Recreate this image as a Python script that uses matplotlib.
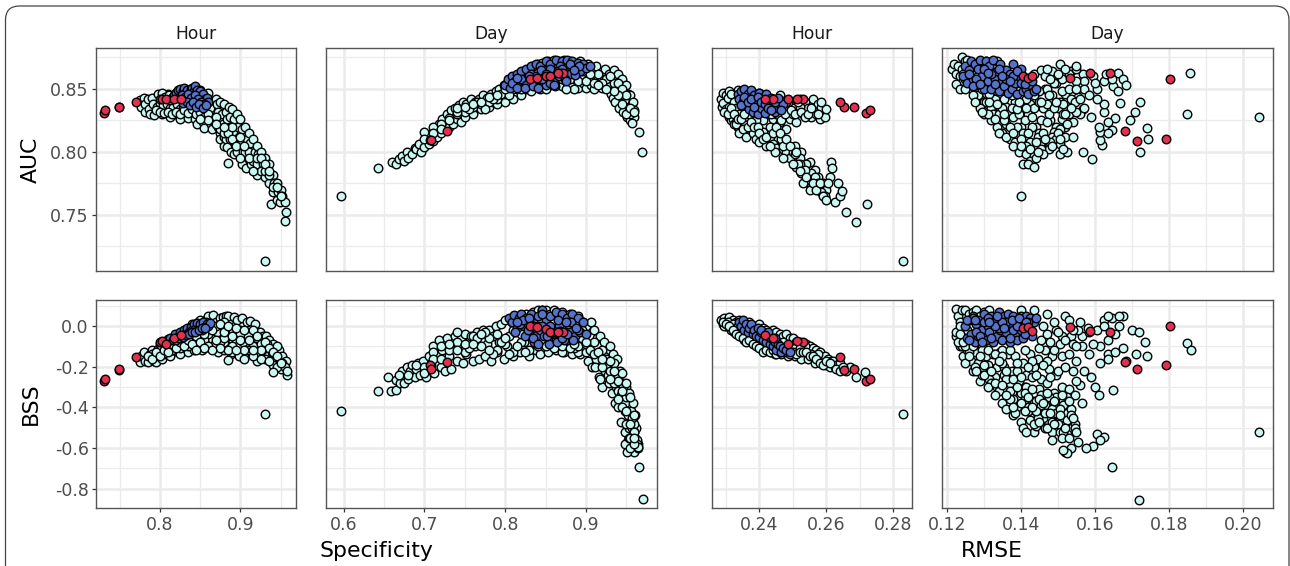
import matplotlib
matplotlib.use("Agg")
import matplotlib.pyplot as plt
from matplotlib.patches import FancyBboxPatch
from matplotlib.transforms import IdentityTransform

# ---- values, (x, y) per panel ----
# Hour, Specificity / AUC
a_light = [(.775,.841),(.776,.836),(.78,.843),(.781,.838),(.782,.832),(.785,.842),(.786,.834),(.787,.83),(.79,.843),(.791,.838),(.793,.829),
    (.80,.845),(.801,.84),(.802,.835),(.803,.83),(.81,.846),(.811,.84),(.812,.834),(.813,.828),(.82,.847),(.821,.842),(.822,.836),(.823,.829),(.825,.826),
    (.83,.849),(.831,.843),(.832,.837),(.833,.831),(.835,.827),(.84,.85),(.841,.845),(.842,.838),(.843,.832),(.844,.826),(.846,.822),
    (.85,.849),(.851,.843),(.852,.836),(.853,.83),(.854,.824),(.855,.819),(.86,.847),(.861,.841),(.862,.835),(.863,.828),(.864,.822),(.865,.818),
    (.87,.842),(.871,.838),(.872,.832),(.873,.826),(.872,.82),(.874,.815),(.875,.81),(.875,.84),(.877,.83),(.878,.822),(.879,.812),(.88,.805),
    (.88,.838),(.882,.832),(.883,.826),(.884,.818),(.882,.81),(.883,.804),(.886,.836),(.887,.828),(.888,.82),(.887,.81),(.888,.80),(.8845,.791),
    (.89,.834),(.892,.826),(.891,.815),(.893,.806),(.892,.798),(.896,.83),(.897,.82),(.898,.812),(.896,.80),(.90,.826),(.902,.818),(.901,.808),(.903,.80),(.902,.79),
    (.906,.82),(.908,.81),(.906,.80),(.907,.787),(.91,.815),(.912,.807),(.911,.80),(.913,.79),(.916,.81),(.918,.80),(.915,.793),(.92,.805),(.922,.798),(.921,.79),(.92,.782),
    (.926,.80),(.928,.79),(.925,.785),(.931,.795),(.933,.788),(.93,.78),(.936,.79),(.938,.78),(.935,.775),(.94,.782),(.942,.775),(.941,.768),(.9385,.759),
    (.946,.775),(.947,.768),(.945,.762),(.95,.77),(.952,.765),(.949,.76),(.955,.76),(.956,.752),(.9555,.745),(.9305,.7135),
    (.797,.846),(.803,.847),(.806,.844),(.811,.845),(.815,.843),(.819,.846),(.823,.844),(.826,.841),(.831,.845),(.835,.842),(.838,.843),(.841,.841),
    (.796,.836),(.80,.839),(.804,.837),(.809,.838),(.813,.835),(.816,.836),(.821,.838),(.825,.834),(.828,.835),(.833,.836),
    (.795,.833),(.80,.832),(.805,.831),(.81,.832),(.815,.83),(.82,.832),(.825,.83),(.83,.833),(.835,.831),(.84,.834),(.845,.83),(.85,.832),(.855,.828),(.86,.83),(.865,.825),(.87,.828),(.875,.818),(.88,.815),(.885,.815),(.89,.81),
    (.895,.805),(.90,.795),(.905,.805),(.91,.795),(.915,.785),(.92,.795),(.925,.795),(.93,.785),(.935,.782),(.94,.772),(.945,.772),(.95,.765),(.93,.79),(.935,.785),(.90,.812),(.89,.82),(.88,.82),(.87,.822),(.86,.825),(.85,.826)]
a_blue = [(.812,.841),(.815,.843),(.818,.845),(.82,.847),(.822,.849),(.825,.85),(.828,.848),(.83,.851),(.832,.847),(.834,.849),(.836,.846),(.838,.85),
    (.84,.851),(.842,.848),(.844,.852),(.846,.849),(.848,.846),(.85,.848),(.852,.844),(.854,.846),(.856,.842),(.858,.843),(.86,.84),
    (.824,.843),(.827,.845),(.831,.844),(.835,.846),(.839,.843),(.843,.845),(.847,.842),(.851,.84),(.855,.838),(.829,.839),(.833,.84),(.837,.837),(.841,.84),(.845,.836),(.849,.838),(.853,.835),(.857,.837)]
# Day, Specificity / AUC
b_light = [(.597,.765),(.642,.787),(.66,.792),(.665,.79),(.668,.794),(.672,.797),(.675,.793),(.678,.80),(.68,.795),(.685,.798),(.688,.803),(.69,.802),(.693,.806),(.696,.80),
    (.70,.804),(.702,.811),(.705,.806),(.708,.814),(.71,.809),(.713,.818),(.715,.812),(.718,.822),(.72,.815),(.722,.826),(.725,.818),(.728,.83),(.73,.82),(.733,.833),(.735,.822),(.738,.835),
    (.74,.826),(.743,.837),(.745,.824),(.748,.84),(.75,.828),(.752,.838),(.755,.833),(.758,.842),(.76,.83),(.762,.84),(.765,.836),(.768,.842),(.77,.834),(.772,.845),(.775,.838),(.778,.843),
    (.78,.836),(.782,.846),(.785,.84),(.788,.848),(.79,.838),(.792,.85),(.795,.843),(.798,.853),(.80,.84),(.802,.855),(.805,.848),(.808,.858),(.81,.842),(.812,.86),(.815,.85),(.818,.862),
    (.82,.845),(.823,.864),(.826,.85),(.829,.866),(.832,.848),(.835,.868),(.838,.852),(.84,.87),(.843,.85),(.846,.871),(.85,.855),(.853,.872),(.856,.853),(.86,.873),(.863,.856),(.866,.872),
    (.87,.852),(.873,.873),(.876,.855),(.88,.872),(.883,.853),(.886,.871),(.89,.851),(.893,.872),(.896,.855),(.90,.851),(.903,.87),(.906,.853),(.91,.85),(.913,.868),(.916,.856),(.92,.851),(.923,.866),(.926,.853),
    (.93,.849),(.928,.862),(.933,.855),(.931,.846),(.935,.865),(.937,.852),(.934,.843),(.94,.862),(.938,.85),(.942,.856),(.936,.84),(.945,.858),(.943,.845),(.947,.852),(.941,.835),
    (.95,.853),(.948,.84),(.952,.846),(.946,.832),(.955,.845),(.953,.836),(.957,.838),(.951,.828),(.958,.84),(.956,.83),(.959,.833),(.954,.825),(.96,.828),(.957,.823),(.966,.816),(.969,.80),
    (.70,.816),(.71,.82),(.72,.822),(.73,.827),(.74,.83),(.75,.832),(.76,.836),(.77,.838),(.78,.84),(.79,.842),(.80,.846),(.81,.85),(.82,.855),(.83,.858),(.84,.86),(.85,.862),(.86,.864),(.87,.866),
    (.88,.865),(.89,.864),(.90,.862),(.91,.86),(.92,.858),(.93,.855),(.94,.85),(.945,.848),(.74,.832),(.755,.834),(.765,.84),(.775,.834),(.785,.842),(.795,.846),(.805,.845),(.815,.852),(.825,.853),
    (.835,.856),(.845,.857),(.855,.857),(.865,.86),(.875,.86),(.885,.858),(.895,.858),(.905,.857),(.915,.862),(.925,.858),(.935,.855),
    (.70,.81),(.71,.815),(.72,.818),(.73,.825),(.74,.835),(.75,.836),(.76,.838),(.77,.84),(.78,.844),(.79,.845),(.80,.85),(.81,.855),(.82,.85),(.83,.855),(.84,.855),(.85,.85),(.86,.86),(.87,.858),(.88,.858),(.89,.856),
    (.90,.856),(.91,.855),(.92,.855),(.93,.86),(.94,.855),(.945,.85),(.95,.845),(.955,.83),(.95,.83),(.945,.838),(.94,.845),(.935,.848),(.925,.85),(.915,.853),(.905,.862),(.895,.864),(.885,.85),(.875,.85),(.955,.835),(.96,.832)]
b_blue = [(.80,.853),(.803,.858),(.806,.851),(.809,.86),(.812,.856),(.815,.862),(.818,.853),(.82,.864),(.823,.856),(.826,.866),(.829,.855),(.832,.868),(.835,.854),(.838,.87),(.84,.858),(.843,.868),(.846,.856),
    (.85,.872),(.853,.86),(.856,.87),(.86,.858),(.863,.873),(.866,.86),(.87,.872),(.873,.864),(.876,.873),(.88,.862),(.883,.872),(.886,.866),(.89,.871),(.893,.864),(.896,.87),(.90,.867),(.905,.868),
    (.808,.855),(.814,.851),(.82,.858),(.826,.853),(.832,.862),(.838,.86),(.844,.865),(.85,.853),(.856,.866),(.862,.852),(.868,.868),(.874,.858),(.88,.87),(.886,.861),(.892,.868),
    (.825,.851),(.835,.852),(.845,.858),(.855,.855),(.865,.864),(.875,.856),(.885,.865),(.815,.859),(.83,.86),(.84,.851),(.85,.862),(.86,.853),(.87,.866)]
# Hour, RMSE / AUC
c_light = [(.2285,.842),(.229,.847),(.2295,.838),(.23,.845),(.2305,.841),(.231,.848),(.2288,.836),(.2292,.839),(.23,.834),(.2305,.843),(.231,.836),(.2315,.846),(.232,.832),(.2325,.84),(.233,.835),(.2335,.849),(.234,.83),(.2345,.843),
    (.231,.828),(.2315,.825),(.232,.826),(.2325,.822),(.233,.824),(.2335,.82),(.234,.818),(.235,.846),(.2355,.84),(.236,.835),(.2365,.828),(.237,.82),(.2375,.816),(.238,.842),(.2385,.835),(.239,.826),(.2395,.812),
    (.24,.847),(.2405,.84),(.241,.832),(.2415,.815),(.242,.845),(.2425,.83),(.243,.838),(.2435,.82),(.244,.826),(.2445,.836),(.245,.81),(.233,.822),(.234,.815),(.235,.818),(.236,.812),(.237,.82),(.238,.815),(.239,.81),
    (.24,.808),(.241,.816),(.242,.805),(.243,.812),(.244,.806),(.245,.803),(.2455,.84),(.246,.832),(.2465,.81),(.247,.802),(.2475,.835),(.248,.80),(.2485,.828),(.249,.838),(.2495,.796),(.25,.83),
    (.2505,.805),(.251,.835),(.2515,.793),(.252,.842),(.2525,.80),(.253,.83),(.2535,.84),(.254,.79),(.2545,.835),(.255,.792),(.2555,.828),(.256,.842),(.2565,.786),(.257,.83),(.2575,.838),(.258,.826),(.2585,.836),(.2595,.828),(.2598,.834),
    (.2465,.835),(.247,.805),(.248,.83),(.249,.795),(.25,.835),(.251,.788),(.252,.795),(.253,.785),(.254,.79),(.255,.78),(.2555,.783),(.2565,.775),(.2575,.78),(.2585,.77),(.259,.775),(.26,.77),(.261,.78),(.2625,.7605),(.264,.765),(.2635,.775),(.2647,.769),(.266,.7525),(.2688,.7447),(.2722,.759),(.2615,.792),(.2618,.7875),(.283,.7135),
    (.24,.84),(.241,.825),(.242,.838),(.243,.82),(.244,.834),(.245,.83),(.246,.824),(.247,.828),(.248,.818),(.249,.826),(.25,.80),(.251,.824),(.252,.79),(.253,.785),(.2445,.80),(.2505,.798),(.2515,.79),(.2525,.783),(.2535,.786),(.2545,.776),(.2555,.772),(.2565,.78),(.2575,.775),(.2585,.768),(.2595,.765),
    (.2346,.837),(.2368,.83),(.239,.825),(.2412,.838),(.2434,.83),(.2456,.84),(.2478,.835),(.25,.83),(.2522,.836),
    (.2295,.832),(.2305,.83),(.2315,.835),(.2325,.83),(.2335,.826),(.2345,.826),(.2355,.83),(.2365,.82),(.2375,.824),(.2385,.82),(.2395,.82),(.24,.815),(.241,.81),(.242,.812),(.243,.805),(.244,.815),(.245,.82),(.246,.815),(.247,.795),(.248,.81),(.249,.805),(.25,.79),(.251,.80),(.252,.785),
    (.253,.775),(.254,.78),(.255,.77),(.256,.775),(.257,.77),(.258,.775),(.259,.765),(.26,.762),(.2605,.775),(.2455,.83),(.2465,.825),(.2475,.83),(.2485,.84),(.2495,.833),(.2505,.83),(.2515,.84),(.2525,.832),(.2535,.828),(.2545,.83),(.2555,.835),(.2575,.83),(.2585,.84),(.244,.842),(.246,.845),(.248,.84)]
c_blue = [(.2335,.846),(.234,.842),(.2345,.848),(.235,.84),(.2355,.85),(.236,.837),(.2365,.846),(.237,.834),(.2375,.849),(.238,.832),(.2385,.845),(.239,.84),(.2395,.83),(.24,.847),(.2405,.835),(.241,.843),(.2415,.831),(.242,.846),(.2425,.84),(.243,.834),
    (.2435,.843),(.244,.838),(.2445,.832),(.245,.84),(.2455,.835),(.246,.841),(.2465,.836),(.247,.838),(.2345,.837),(.2355,.844),(.2365,.84),(.2375,.842),(.2385,.836),(.2395,.844),(.2405,.84),(.2415,.838),(.2425,.835),(.2435,.833),(.2445,.84),(.2455,.843),(.2465,.833)]
# Day, RMSE / AUC
d_light = [(.1858,.863),(.185,.83),(.2042,.8275),(.14,.765),(.1722,.84),(.1708,.832),(.1695,.825),(.174,.819),(.1743,.81),(.1722,.80),(.1568,.80),(.1593,.794),(.1618,.8055),(.1615,.8095),(.1645,.8175),(.1615,.816),(.1667,.8385),(.1655,.8268),
    (.1635,.824),(.1625,.832),(.159,.828),(.1568,.834),(.1605,.85),(.1555,.844),(.1625,.856),(.1662,.863),(.1675,.858),(.1685,.853),(.165,.852),(.1662,.848),(.1595,.86),(.1568,.862),(.1535,.864),(.1548,.85),(.152,.846),(.1525,.83),(.154,.824),
    (.1215,.866),(.122,.87),(.1225,.862),(.123,.868),(.1235,.86),(.124,.875),(.1245,.856),(.125,.872),(.1225,.854),(.1235,.85),(.124,.866),(.1245,.862),(.125,.858),(.1255,.873),(.126,.852),(.1265,.868),(.127,.848),(.1275,.864),(.128,.845),(.1285,.86),(.129,.842),(.1295,.866),(.13,.84),(.1305,.872),(.131,.838),(.1315,.86),(.132,.835),(.1325,.868),(.133,.842),(.1335,.872),(.134,.834),(.1345,.862),(.135,.838),(.1355,.858),(.136,.836),
    (.1265,.855),(.1275,.85),(.1285,.845),(.1295,.85),(.1305,.84),(.1315,.846),(.1325,.83),(.1335,.848),(.1345,.835),(.1355,.842),(.1365,.83),(.1375,.854),(.1385,.84),(.1395,.848),(.1405,.835),(.1415,.852),(.1425,.838),(.1435,.862),(.1445,.848),(.1455,.865),(.1465,.85),(.1475,.86),(.1485,.845),(.1495,.855),(.1505,.84),
    (.13,.83),(.132,.825),(.134,.83),(.136,.822),(.138,.828),(.14,.82),(.142,.83),(.144,.82),(.146,.835),(.148,.825),(.15,.835),(.152,.82),(.154,.84),(.156,.83),(.1335,.82),(.1355,.825),(.1375,.835),(.1395,.83),(.1415,.842),(.1435,.835),(.1455,.825),(.1475,.83),(.1495,.82),(.1515,.838),(.1535,.842),
    (.135,.815),(.137,.81),(.139,.82),(.141,.812),(.143,.82),(.145,.815),(.147,.824),(.149,.816),(.151,.826),(.153,.83),(.155,.832),(.157,.835),(.1385,.808),(.1405,.815),(.1425,.808),(.1445,.812),(.1465,.806),(.1485,.812),(.1505,.818),(.1525,.822),(.1545,.84),
    (.1395,.803),(.1415,.805),(.1435,.802),(.1455,.808),(.1475,.806),(.1495,.81),(.1515,.812),(.1395,.80),(.1415,.798),(.1435,.797),(.1475,.802),(.1505,.806),(.1455,.802),(.1425,.793),(.146,.798),(.144,.795),(.1505,.798),(.1525,.80),(.1405,.79),(.142,.79),(.1435,.788),
    (.145,.848),(.147,.85),(.149,.855),(.151,.858),(.153,.862),(.155,.866),(.157,.856),(.1465,.86),(.1485,.864),(.1505,.87),(.152,.866),(.155,.868),
    (.125,.85),(.127,.845),(.129,.835),(.131,.83),(.133,.826),(.135,.835),(.137,.82),(.139,.834),(.141,.825),(.143,.828),(.145,.84),(.147,.838),(.149,.835),(.151,.848),(.153,.85),(.155,.856),(.157,.85),(.1275,.84),(.1295,.832),(.1315,.84),(.1335,.838),(.1355,.83),(.1375,.845),(.1395,.84),(.1415,.835),(.1435,.845),(.1455,.84),(.1475,.845),(.1495,.84),(.1515,.83),(.1535,.835),
    (.134,.815),(.136,.812),(.138,.815),(.14,.81),(.142,.815),(.144,.808),(.146,.815),(.148,.808),(.15,.815),(.152,.812),(.138,.805),(.14,.805),(.1425,.802),(.1445,.80),(.1465,.81),(.1485,.805),(.1505,.81),(.1515,.802),(.152,.83),(.154,.812),
    (.1625,.838),(.1585,.845),(.161,.82),(.1635,.815),(.1605,.842),(.163,.862),(.1645,.858),(.16,.855),(.155,.85),(.156,.842),(.148,.858),(.15,.862),(.147,.866)]
d_blue = [(.1245,.86),(.125,.868),(.1255,.855),(.126,.865),(.1265,.872),(.127,.858),(.1275,.87),(.128,.853),(.1285,.866),(.129,.873),(.1295,.86),(.13,.85),(.1305,.872),(.131,.856),(.1315,.868),(.132,.85),(.1325,.873),(.133,.858),(.1335,.864),(.134,.848),
    (.1345,.87),(.135,.856),(.1355,.852),(.136,.865),(.1365,.847),(.137,.862),(.1375,.85),(.138,.87),(.1385,.855),(.139,.846),(.1395,.86),(.14,.866),(.1405,.848),(.141,.855),(.1415,.85),(.142,.846),(.1425,.858),(.143,.852),(.1435,.848),(.144,.85),
    (.126,.862),(.128,.858),(.13,.866),(.132,.862),(.134,.866),(.136,.858),(.138,.86),(.14,.855),(.142,.857),(.127,.852),(.129,.854),(.131,.863),(.133,.854),(.135,.86),(.137,.856),(.139,.864),(.141,.854),(.143,.856)]
# Hour, Specificity / BSS
e_light = [(.775,-.175),(.777,-.15),(.78,-.13),(.782,-.17),(.785,-.175),(.787,-.14),(.79,-.12),(.792,-.17),(.795,-.175),(.797,-.115),(.80,-.09),(.802,-.16),(.805,-.14),(.807,-.085),(.81,-.065),(.812,-.15),(.815,-.12),(.817,-.06),(.82,-.05),(.822,-.13),(.825,-.14),(.827,-.03),(.83,-.02),(.832,-.11),(.835,-.13),(.837,-.01),
    (.84,.01),(.842,-.12),(.845,-.10),(.847,.02),(.85,.03),(.852,-.12),(.855,-.09),(.857,.03),(.86,.05),(.862,-.11),(.864,-.06),(.866,.055),(.868,-.09),(.87,.02),(.872,-.13),(.874,.04),(.876,-.06),(.878,.045),(.88,-.12),(.882,.05),(.884,-.10),(.886,.03),(.888,-.14),(.885,.05),(.879,.02),(.871,-.03),(.863,-.02),(.857,.02),
    (.89,-.13),(.892,.045),(.894,-.08),(.896,.03),(.898,-.15),(.90,-.02),(.902,.04),(.904,-.16),(.906,-.06),(.908,.02),(.91,-.10),(.912,.025),(.914,-.14),(.916,-.04),(.918,.01),(.92,-.17),(.922,-.08),(.924,-.03),(.926,-.15),(.928,-.05),(.93,-.11),(.932,-.05),(.934,-.14),(.936,-.07),(.938,-.16),(.94,-.09),(.942,-.17),(.944,-.11),(.946,-.19),(.948,-.12),(.95,-.16),(.952,-.15),(.954,-.20),(.956,-.17),(.958,-.24),
    (.885,-.05),(.891,-.02),(.897,-.10),(.903,-.08),(.909,-.05),(.915,-.10),(.921,-.06),(.927,-.12),(.933,-.09),(.939,-.13),(.945,-.10),(.951,-.18),(.88,-.08),(.89,-.10),(.90,-.04),(.91,-.12),(.92,-.13),(.93,-.16),(.94,-.19),(.95,-.21),(.87,.0),(.875,-.08),(.88,-.06),(.885,-.12),(.905,-.12),(.915,-.15),(.925,-.16),(.935,-.17),(.945,-.20),
    (.94,-.225),(.955,-.20),(.958,-.22),(.885,-.167),(.9305,-.435),(.79,-.14),(.80,-.12),(.81,-.10),(.82,-.09),(.83,-.08),(.84,-.06),(.85,-.05),(.86,-.04),(.795,-.15),(.805,-.135),(.815,-.12),(.825,-.11),(.835,-.10),(.845,-.08),(.855,-.07),
    (.785,-.15),(.79,-.16),(.795,-.13),(.80,-.15),(.805,-.12),(.81,-.13),(.815,-.09),(.82,-.11),(.825,-.08),(.83,-.10),(.835,-.07),(.84,-.09),(.845,-.05),(.85,-.08),(.855,-.04),(.86,-.10),(.865,-.02),(.87,-.07),(.875,.01),(.88,-.03),(.885,.0),
    (.89,-.05),(.895,-.01),(.90,-.07),(.905,-.02),(.91,-.07),(.915,-.02),(.92,-.05),(.925,-.09),(.93,-.08),(.935,-.11),(.94,-.13),(.945,-.15),(.95,-.18),(.925,-.12),(.915,-.12),(.895,-.12),(.875,-.11),(.865,-.12),(.855,-.11),(.845,-.12)]
e_blue = [(.81,-.075),(.813,-.06),(.816,-.07),(.819,-.04),(.822,-.055),(.825,-.03),(.828,-.045),(.83,-.02),(.832,-.035),(.834,-.01),(.836,-.03),(.838,-.005),(.84,-.02),(.842,.01),(.844,-.015),(.846,.015),(.848,-.01),(.85,.01),(.852,-.02),(.854,.02),(.856,-.005),(.858,.01),(.86,.0),(.862,.015),
    (.82,-.07),(.824,-.06),(.828,-.055),(.832,-.045),(.836,-.04),(.84,-.03),(.844,-.03),(.848,-.02),(.852,-.01),(.856,-.01)]
# Day, Specificity / BSS
f_light = [(.597,-.42),(.642,-.32),(.658,-.32),(.665,-.315),(.655,-.25),(.665,-.265),(.67,-.28),(.672,-.22),(.668,-.24),(.675,-.28),(.678,-.20),(.68,-.26),(.682,-.22),(.685,-.19),(.688,-.25),(.69,-.21),(.692,-.18),(.695,-.24),(.698,-.17),(.70,-.20),(.702,-.25),(.705,-.15),(.708,-.19),(.71,-.10),(.712,-.23),(.715,-.14),(.718,-.07),(.72,-.20),(.722,-.12),(.725,-.22),(.728,-.06),(.73,-.15),(.733,-.21),(.735,-.10),(.738,-.05),(.74,-.17),
    (.742,-.09),(.745,-.06),(.748,-.18),(.75,-.04),(.752,-.14),(.755,-.08),(.758,-.05),(.76,-.17),(.762,-.10),(.765,-.03),(.768,-.16),(.77,-.07),(.772,-.02),(.775,-.15),(.778,-.09),(.78,-.02),(.782,-.17),(.785,-.05),(.788,.0),(.79,-.13),(.792,-.08),(.795,.01),(.798,-.16),(.80,.03),(.802,-.10),(.805,-.05),(.808,.02),(.81,-.15),(.812,-.03),(.815,.04),(.818,-.13),(.82,.05),(.823,-.08),(.826,.06),(.829,-.15),(.832,-.05),(.835,.07),(.838,-.12),(.84,.08),
    (.843,-.14),(.846,.08),(.85,.08),(.853,-.13),(.856,.06),(.86,.08),(.863,-.12),(.866,.06),(.87,.07),(.873,-.13),(.876,.05),(.88,.06),(.883,-.14),(.886,.04),(.89,.05),(.893,-.14),(.896,.02),(.90,.0),(.903,-.17),(.906,.02),(.908,-.20),(.91,-.02),(.912,-.16),(.914,-.06),(.916,-.25),(.918,-.05),(.92,-.30),(.922,-.08),(.924,-.22),(.926,-.12),(.928,-.28),(.93,-.10),(.932,-.33),(.934,-.14),(.936,-.38),(.938,-.16),(.94,-.40),(.942,-.22),(.944,-.47),(.946,-.28),(.948,-.52),(.95,-.30),(.952,-.56),(.954,-.38),(.956,-.60),(.958,-.45),(.96,-.62),(.962,-.50),(.964,-.58),
    (.911,-.20),(.917,-.26),(.922,-.15),(.927,-.24),(.932,-.18),(.937,-.30),(.94,-.25),(.943,-.35),(.946,-.30),(.948,-.42),(.95,-.36),(.952,-.44),(.953,-.50),(.955,-.40),(.957,-.50),(.959,-.48),(.961,-.55),(.963,-.56),(.948,-.58),(.951,-.62),(.953,-.55),(.955,-.60),(.957,-.45),(.959,-.52),(.961,-.44),(.963,-.58),(.964,-.60),(.965,-.595),(.966,-.695),(.9705,-.85),
    (.92,-.12),(.925,-.20),(.93,-.22),(.935,-.28),(.94,-.32),(.944,-.34),(.948,-.38),(.95,-.35),(.953,-.33),(.956,-.42),(.958,-.38),(.96,-.44),(.935,-.18),(.94,-.27),(.945,-.23),(.95,-.28),(.955,-.35),(.96,-.52),
    (.71,-.13),(.72,-.10),(.73,-.12),(.74,-.08),(.75,-.13),(.76,-.05),(.77,-.10),(.78,-.06),(.79,-.12),(.80,-.09),(.81,-.13),(.82,-.08),(.83,-.12),(.84,-.10),(.85,-.05),(.86,-.08),(.87,-.13),(.88,-.10),(.89,-.13),(.90,-.13),(.74,-.03),(.755,-.11),(.765,-.06),(.775,-.03),(.785,-.14),(.795,-.08),(.805,-.14),(.815,-.10),(.825,-.13),(.875,-.07),(.885,-.11),(.895,-.06),
    (.68,-.24),(.69,-.19),(.70,-.23),(.71,-.16),(.72,-.16),(.73,-.09),(.74,-.12),(.75,-.09),(.76,-.09),(.77,-.04),(.78,-.12),(.79,-.04),(.80,-.06),(.81,-.02),(.82,-.04),(.85,-.10),(.86,-.11),(.87,-.10),(.88,-.11),(.89,-.10),(.90,-.09),(.905,-.12),(.91,-.14),(.915,-.13),
    (.92,-.20),(.925,-.16),(.93,-.26),(.935,-.22),(.94,-.36),(.945,-.40),(.95,-.48),(.955,-.55),(.96,-.58),(.945,-.32),(.95,-.42),(.955,-.48),(.96,-.55),(.93,-.17),(.92,-.16),(.91,-.08),(.90,-.08),(.895,-.02),(.885,-.09)]
f_blue = [(.805,.04),(.808,.02),(.811,.055),(.814,-.01),(.817,.04),(.82,.06),(.823,.0),(.826,.04),(.829,-.03),(.832,.06),(.835,.02),(.838,-.05),(.84,.05),(.843,-.02),(.846,.08),(.85,.03),(.853,-.06),(.856,.05),(.86,-.03),(.863,.07),(.866,.0),(.87,.06),(.873,-.07),(.876,.04),(.88,-.02),(.883,.06),(.886,-.05),(.89,.04),(.893,-.03),(.896,.02),(.90,-.04),
    (.812,-.03),(.818,.01),(.824,-.05),(.83,.03),(.836,-.08),(.842,.0),(.848,-.05),(.854,-.09),(.86,-.03),(.866,-.07),(.872,-.04),(.878,.01),(.884,-.07),(.89,-.02),(.822,.03),(.828,-.02),(.834,-.06),(.84,-.09),(.846,.0),(.852,-.05),(.858,-.02),(.864,-.08),(.87,-.06),(.876,-.04),(.882,.02),(.888,-.01),(.83,.04),(.845,.06),(.855,.0),(.865,.03),(.875,.02),(.815,.02),(.835,.0)]
# Hour, RMSE / BSS
g_light = [(.2285,.03),(.229,.01),(.2295,.04),(.23,.0),(.2305,.03),(.231,.045),(.2315,-.01),(.232,.03),(.2325,-.03),(.233,.02),(.2335,-.03),(.234,.03),(.2345,-.05),(.235,.02),(.2355,-.07),(.236,.01),(.2365,-.04),(.237,.02),(.2375,-.08),(.238,.0),(.2385,-.06),(.239,.0),(.2395,-.10),(.24,.01),(.2405,-.08),(.241,-.01),(.2415,-.12),(.242,-.02),(.2425,-.09),(.243,-.03),
    (.2435,-.13),(.244,-.02),(.2445,-.14),(.245,-.03),(.2455,-.13),(.246,-.04),(.2465,-.14),(.247,-.05),(.2475,-.11),(.248,-.04),(.2485,-.15),(.249,-.06),(.2495,-.13),(.25,-.06),(.2505,-.15),(.251,-.08),(.2515,-.12),(.252,-.08),(.2525,-.16),(.253,-.09),(.2535,-.12),(.254,-.09),(.2545,-.16),(.255,-.10),(.2555,-.13),(.256,-.11),(.2565,-.18),(.257,-.12),(.2575,-.15),(.258,-.13),(.2585,-.17),(.259,-.16),
    (.2595,-.15),(.26,-.19),(.2605,-.16),(.261,-.20),(.2615,-.17),(.262,-.17),(.2625,-.20),(.263,-.19),(.264,-.18),(.265,-.21),(.266,-.22),(.267,-.20),(.2688,-.25),(.2715,-.225),(.283,-.435),
    (.2295,.0),(.2315,-.02),(.2335,-.01),(.2355,-.04),(.2375,-.03),(.2395,-.05),(.2415,-.06),(.2435,-.07),(.2455,-.08),(.2475,-.09),(.2495,-.10),(.2515,-.11),(.2535,-.10),(.2555,-.14),(.2575,-.14),
    (.2292,.02),(.2308,.0),(.2325,-.01),(.234,-.02),(.2358,-.03),(.2375,-.05),(.239,-.06),(.2408,-.05),(.2425,-.08),(.244,-.09),(.2455,-.10),(.247,-.08),(.2488,-.10),(.2505,-.11),(.252,-.11),(.2305,.02),(.232,.01),(.2335,.0),(.235,-.04),(.2365,-.06),(.238,-.04),(.2395,-.07),(.241,-.09),(.2425,-.11),(.2445,-.11),
    (.23,.01),(.231,.0),(.232,-.02),(.233,-.04),(.234,-.05),(.235,-.06),(.236,-.08),(.237,-.07),(.238,-.09),(.239,-.10),(.24,-.11),(.241,-.13),(.242,-.12),(.243,-.13),(.244,-.12),(.245,-.14),(.246,-.13),(.247,-.12),
    (.248,-.13),(.249,-.14),(.25,-.13),(.251,-.14),(.252,-.13),(.253,-.13),(.254,-.13),(.255,-.15),(.256,-.15),(.257,-.16),(.258,-.18),(.259,-.19),(.26,-.17),(.261,-.18),(.263,-.21),(.264,-.22),(.265,-.20)]
g_blue = [(.234,.02),(.2345,.0),(.235,.03),(.2355,-.02),(.236,.01),(.2365,-.03),(.237,-.01),(.2375,.01),(.238,-.04),(.2385,-.02),(.239,-.05),(.2395,-.01),(.24,-.055),(.2405,-.03),(.241,-.07),(.2415,-.04),(.242,-.08),(.2425,-.05),(.243,-.09),(.2435,-.06),(.244,-.10),(.2445,-.08),(.245,-.12),(.2455,-.09),(.246,-.10),(.2465,-.13),(.247,-.11),(.248,-.12),(.249,-.13),(.2405,-.02),(.2425,-.03),(.2445,-.06)]
# Day, RMSE / BSS
h_light = [(.2042,-.52),(.172,-.855),(.1645,-.695),(.165,-.315),(.185,-.085),(.186,-.12),(.16,-.30),(.161,-.34),(.157,-.22),(.159,-.25),(.156,-.29),(.1565,-.38),(.1605,-.53),(.1625,-.545),(.1615,-.56),(.1595,-.59),(.1575,-.60),(.1535,-.60),(.152,-.62),(.1525,-.625),(.1515,-.61),(.1435,-.52),
    (.1565,-.05),(.1585,-.03),(.1605,-.02),(.1625,.03),(.1645,.04),(.1665,.0),(.1675,.05),(.17,-.02),(.172,-.03),(.1735,-.08),(.174,-.15),(.171,-.14),(.1685,-.17),(.1675,-.11),(.1655,-.04),(.1635,-.07),(.1615,-.10),(.1635,-.14),(.1655,-.13),(.1595,-.09),(.1585,-.14),(.1615,-.18),(.1635,-.16),(.1565,-.10),(.1555,-.02),(.1535,-.05),
    (.1225,.085),(.123,.05),(.1235,.02),(.124,.08),(.1245,.0),(.125,.08),(.1255,-.02),(.126,.06),(.1265,-.05),(.127,.07),(.1275,-.04),(.128,.08),(.1285,-.08),(.129,.05),(.1295,-.10),(.13,.07),(.1235,-.10),(.1245,-.15),(.1255,-.12),(.1265,-.17),(.1275,-.13),(.1285,-.18),(.1295,-.12),(.1305,-.15),(.1315,-.20),(.1325,-.14),(.1335,-.20),(.1345,-.13),
    (.1355,-.20),(.1365,-.14),(.1375,-.22),(.1385,-.15),(.1395,-.27),(.1405,-.18),(.1415,-.24),(.1425,-.14),(.1435,-.20),(.1445,-.16),(.1455,-.26),(.1465,-.12),(.1475,-.21),(.1485,-.15),(.1495,-.24),(.1505,-.09),(.125,-.18),(.127,-.22),(.129,-.27),(.131,-.19),(.133,-.25),(.135,-.18),(.137,-.28),(.139,-.22),(.141,-.30),(.143,-.25),(.145,-.31),(.147,-.28),(.149,-.33),(.151,-.30),(.153,-.31),(.155,-.27),
    (.1275,-.20),(.1295,-.24),(.1315,-.26),(.1335,-.30),(.1355,-.24),(.1375,-.33),(.1395,-.35),(.1415,-.30),(.1435,-.37),(.1455,-.34),(.1475,-.38),(.1495,-.35),(.1515,-.37),(.13,-.24),(.132,-.28),(.134,-.32),(.136,-.26),(.138,-.36),(.14,-.33),(.142,-.40),(.144,-.37),(.146,-.42),(.148,-.39),(.15,-.42),(.152,-.43),(.133,-.34),(.135,-.38),(.137,-.32),(.139,-.40),(.141,-.36),(.143,-.45),(.145,-.43),(.147,-.46),(.149,-.40),(.151,-.47),
    (.136,-.41),(.138,-.44),(.14,-.47),(.142,-.42),(.144,-.49),(.146,-.45),(.148,-.50),(.15,-.44),(.152,-.48),(.1385,-.43),(.1405,-.50),(.1425,-.46),(.1445,-.44),(.1465,-.39),(.1485,-.41),(.1505,-.45),(.1525,-.43),(.1415,-.52),(.1435,-.48),(.1455,-.39),(.1475,-.35),(.1495,-.43),(.1515,-.39),(.1535,-.41),(.1445,-.45),(.1465,-.43),(.1485,-.47),(.1505,-.41),(.1525,-.53),(.1545,-.48),(.1465,-.50),(.1485,-.52),(.1505,-.52),(.1525,-.46),(.1545,-.50),(.1555,-.57),(.1515,-.52),(.1505,-.44),(.1485,-.56),(.1525,-.35),(.1535,-.44),(.1545,-.34),
    (.1225,-.05),(.124,-.10),(.126,-.13),(.1315,.08),(.135,-.12),(.14,.08),(.1435,.08),(.147,.06),(.1495,-.02),(.152,.05),(.154,-.02),(.156,.02),(.158,-.01),(.1625,.0),(.1635,.05),(.1665,.05),
    (.125,-.10),(.127,-.10),(.129,-.15),(.131,-.12),(.133,-.14),(.135,-.15),(.137,-.12),(.139,-.18),(.141,-.12),(.143,-.17),(.145,-.11),(.147,-.17),(.149,-.12),(.151,-.15),(.153,-.14),(.155,-.17),(.126,-.15),(.128,-.22),(.13,-.19),(.132,-.22),(.134,-.17),(.136,-.22),(.138,-.26),(.14,-.25),(.142,-.20),(.144,-.24),(.146,-.19),(.148,-.25),(.15,-.22),(.152,-.20),(.154,-.22),
    (.131,-.30),(.133,-.28),(.135,-.29),(.137,-.36),(.139,-.30),(.141,-.33),(.143,-.31),(.145,-.36),(.147,-.33),(.149,-.37),(.151,-.34),(.153,-.37),(.136,-.34),(.138,-.40),(.14,-.38),(.142,-.35),(.144,-.42),(.146,-.38),(.148,-.43),(.15,-.48),(.152,-.50),(.154,-.45),(.141,-.42),(.143,-.40),(.145,-.47),(.147,-.50),(.149,-.48),(.151,-.55),(.153,-.55),(.155,-.52),
    (.1455,-.07),(.147,-.04),(.149,.02),(.151,-.05),(.153,.03),(.146,.0),(.148,-.08),(.15,-.03),(.152,-.07),(.154,-.09),(.155,-.10),(.1225,-.03),(.123,-.08),(.1245,-.08),(.1235,.0),(.1235,-.04)]
h_blue = [(.125,.0),(.1255,-.06),(.126,.03),(.1265,-.04),(.127,.05),(.1275,-.08),(.128,.01),(.1285,-.05),(.129,.03),(.1295,-.02),(.13,.06),(.1305,-.07),(.131,.0),(.1315,-.03),(.132,.05),(.1325,-.08),(.133,.02),(.1335,-.05),(.134,.07),(.1345,-.02),(.135,-.07),(.1355,.05),(.136,-.03),(.1365,.06),(.137,-.08),(.1375,.01),(.138,.05),(.1385,-.04),(.139,-.07),(.1395,.03),(.14,.05),(.1405,-.06),(.141,.01),(.1415,.05),(.142,-.03),(.1425,.04),(.143,-.05),(.1435,.02),(.144,.04),
    (.126,-.07),(.128,-.03),(.13,.02),(.132,-.06),(.134,-.01),(.136,.02),(.138,-.02),(.14,-.02),(.142,.02),(.127,.04),(.129,-.05),(.131,.04),(.133,.0),(.135,.02),(.137,-.06),(.139,.0),(.141,-.04),(.1255,.03),(.1275,.03),(.1295,-.08),(.1315,.02),(.1335,.05),(.1355,-.01),(.1375,.03),(.1395,.04),(.1415,.02)]
# best models, the same ten in each column
hour_red_spec = [.7305,.732,.7485,.7495,.77,.80,.803,.807,.817,.826]
hour_red_rmse = [.2718,.273,.2654,.2683,.2642,.2529,.2511,.2485,.244,.2417]
hour_red_auc = [.831,.833,.836,.836,.840,.842,.842,.842,.842,.842]
hour_red_bss = [-.27,-.26,-.215,-.21,-.155,-.08,-.075,-.09,-.06,-.045]
day_red_spec = [.7065,.7085,.7283,.831,.8394,.851,.8555,.8676,.872,.865]
day_red_auc = [.8095,.8095,.8169,.858,.859,.8603,.8603,.863,.863,.8627]
day_red_bss = [-.192,-.21,-.177,-.002,-.007,-.015,-.028,-.026,-.031,-.028]
day_red_rmse = [.1405,.1418,.1429,.1532,.1587,.1642,.1804,.168,.1714,.1793]
day_red_rmse_auc = [.860,.859,.860,.8586,.8630,.8627,.8579,.8169,.8090,.8105]
day_red_rmse_bss = [-.0115,-.0066,-.026,-.0066,-.026,-.028,-.002,-.177,-.21,-.193]

col_titles = ["Hour", "Day", "Hour", "Day"]
auc_ticks = [.75, .80, .85]
bss_ticks = [-.8, -.6, -.4, -.2, 0.0]
bss_labels = ["-0.8", "-0.6", "-0.4", "-0.2", "0.0"]

W, H = 1290, 566
fig = plt.figure(figsize=(W / 100, H / 100), dpi=100)
fig.patch.set_facecolor("white")

# rounded frame round the whole figure, bottom runs off the page
frame = FancyBboxPatch((5.5, -50), 1283.5, H - 6 + 50, boxstyle="round,pad=0,rounding_size=14",
                       transform=IdentityTransform(), fc="none", ec="#444444", lw=0.9)
fig.add_artist(frame)


def make_ax(left, right, top, bottom):
    return fig.add_axes([left / W, 1 - bottom / H, (right - left) / W, (bottom - top) / H])


columns = [(96, 296), (326, 657), (712, 912), (942, 1273)]
rows = [(48.3, 270.5), (299.7, 508.3)]
xlims = [(.7205, .969), (.578, .988), (.2258, .2856), (.1187, .2081)]
ylims = [(.7058, .8823), (-.896, .129)]
xticks = [[.8, .9], [.6, .7, .8, .9], [.24, .26, .28], [.12, .14, .16, .18, .20]]
xminor = [[.75, .85, .95], [.65, .75, .85, .95], [.23, .25, .27], [.13, .15, .17, .19]]
xfmt = ["%.1f", "%.1f", "%.2f", "%.2f"]
yminor = [[.725, .775, .825, .875], [-.7, -.5, -.3, -.1, .1]]

panels = [
    [(a_light, a_blue, hour_red_spec, hour_red_auc),
     (b_light, b_blue, day_red_spec, day_red_auc),
     (c_light, c_blue, hour_red_rmse, hour_red_auc),
     (d_light, d_blue, day_red_rmse, day_red_rmse_auc)],
    [(e_light, e_blue, hour_red_spec, hour_red_bss),
     (f_light, f_blue, day_red_spec, day_red_bss),
     (g_light, g_blue, hour_red_rmse, hour_red_bss),
     (h_light, h_blue, day_red_rmse, day_red_rmse_bss)],
]

for r, (top, bottom) in enumerate(rows):
    for c, (left, right) in enumerate(columns):
        ax = make_ax(left, right, top, bottom)
        light, blue, rx, ry = panels[r][c]
        ax.scatter(*zip(*light), s=38, c="#CBF7F3", edgecolors="black", linewidths=1.0, zorder=3)
        ax.scatter(*zip(*blue), s=38, c="#5673CC", edgecolors="black", linewidths=1.0, zorder=4)
        ax.scatter(rx, ry, s=38, c="#E2304F", edgecolors="black", linewidths=1.0, zorder=5)
        ax.set_xlim(xlims[c])
        ax.set_ylim(ylims[r])
        ax.set_xticks(xticks[c])
        ax.set_xticks(xminor[c], minor=True)
        ax.set_yticks(auc_ticks if r == 0 else bss_ticks)
        ax.set_yticks(yminor[r], minor=True)
        ax.grid(True, which="major", color="#ebebeb", lw=1.8, zorder=0)
        ax.grid(True, which="minor", color="#ebebeb", lw=0.9, zorder=0)
        ax.set_axisbelow(True)
        ax.tick_params(which="minor", length=0)
        ax.tick_params(which="major", length=3.2, width=0.9, color="#333333",
                       labelcolor="#4d4d4d", labelsize=12.5, pad=2)
        for s in ax.spines.values():
            s.set_color("#555555")
            s.set_linewidth(1.0)
        if r == 0:
            ax.set_xticklabels([])
            ax.tick_params(axis="x", which="major", length=0)
            ax.set_title(col_titles[c], fontsize=12.3, color="#1a1a1a", pad=7)
        else:
            ax.set_xticklabels([xfmt[c] % t for t in xticks[c]])
        if c == 0:
            if r == 0:
                ax.set_yticklabels(["%.2f" % t for t in auc_ticks])
            else:
                ax.set_yticklabels(bss_labels)
        else:
            ax.set_yticklabels([])
            ax.tick_params(axis="y", which="major", length=0)

fig.text(376 / W, 1 - 551 / H, "Specificity", fontsize=15.8, ha="center", va="center", color="black")
fig.text(992 / W, 1 - 551 / H, "RMSE", fontsize=15.8, ha="center", va="center", color="black")
fig.text(31 / W, 1 - 160 / H, "AUC", fontsize=15.8, rotation=90, ha="center", va="center", color="black")
fig.text(31 / W, 1 - 404 / H, "BSS", fontsize=15.8, rotation=90, ha="center", va="center", color="black")

fig.savefig("out.png", dpi=100)
